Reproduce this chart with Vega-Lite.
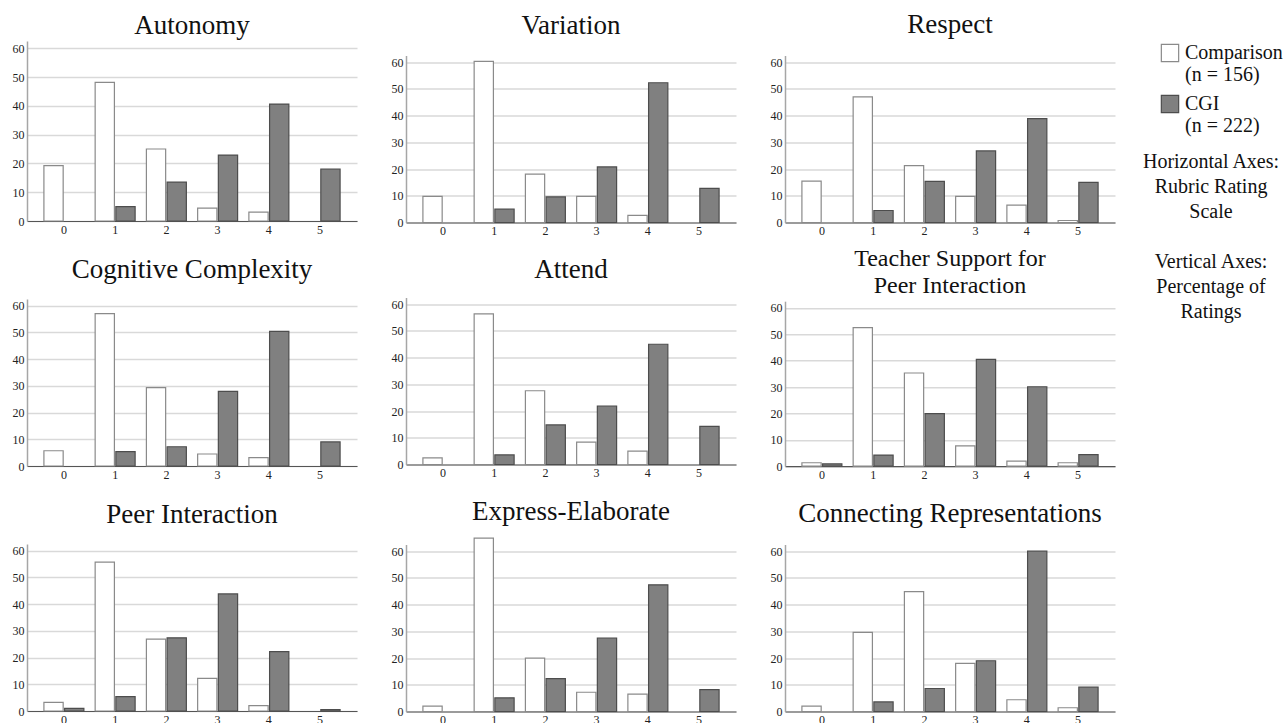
{
  "$schema": "https://vega.github.io/schema/vega-lite/v6.json",
  "padding": {"left": 12, "top": 10, "right": 0, "bottom": 0},
  "data": {"values": [
    {"panel": "Autonomy", "rating": 0, "group": "Comparison", "pct": 19.2},
    {"panel": "Autonomy", "rating": 1, "group": "Comparison", "pct": 48.1},
    {"panel": "Autonomy", "rating": 2, "group": "Comparison", "pct": 25.0},
    {"panel": "Autonomy", "rating": 3, "group": "Comparison", "pct": 4.5},
    {"panel": "Autonomy", "rating": 4, "group": "Comparison", "pct": 3.1},
    {"panel": "Autonomy", "rating": 1, "group": "CGI", "pct": 5.0},
    {"panel": "Autonomy", "rating": 2, "group": "CGI", "pct": 13.5},
    {"panel": "Autonomy", "rating": 3, "group": "CGI", "pct": 22.9},
    {"panel": "Autonomy", "rating": 4, "group": "CGI", "pct": 40.6},
    {"panel": "Autonomy", "rating": 5, "group": "CGI", "pct": 18.0},

    {"panel": "Variation", "rating": 0, "group": "Comparison", "pct": 9.8},
    {"panel": "Variation", "rating": 1, "group": "Comparison", "pct": 60.3},
    {"panel": "Variation", "rating": 2, "group": "Comparison", "pct": 18.1},
    {"panel": "Variation", "rating": 3, "group": "Comparison", "pct": 9.8},
    {"panel": "Variation", "rating": 4, "group": "Comparison", "pct": 2.7},
    {"panel": "Variation", "rating": 1, "group": "CGI", "pct": 5.0},
    {"panel": "Variation", "rating": 2, "group": "CGI", "pct": 9.6},
    {"panel": "Variation", "rating": 3, "group": "CGI", "pct": 20.8},
    {"panel": "Variation", "rating": 4, "group": "CGI", "pct": 52.3},
    {"panel": "Variation", "rating": 5, "group": "CGI", "pct": 12.8},

    {"panel": "Respect", "rating": 0, "group": "Comparison", "pct": 15.5},
    {"panel": "Respect", "rating": 1, "group": "Comparison", "pct": 47.0},
    {"panel": "Respect", "rating": 2, "group": "Comparison", "pct": 21.3},
    {"panel": "Respect", "rating": 3, "group": "Comparison", "pct": 9.8},
    {"panel": "Respect", "rating": 4, "group": "Comparison", "pct": 6.5},
    {"panel": "Respect", "rating": 5, "group": "Comparison", "pct": 0.75},
    {"panel": "Respect", "rating": 1, "group": "CGI", "pct": 4.5},
    {"panel": "Respect", "rating": 2, "group": "CGI", "pct": 15.4},
    {"panel": "Respect", "rating": 3, "group": "CGI", "pct": 26.8},
    {"panel": "Respect", "rating": 4, "group": "CGI", "pct": 38.9},
    {"panel": "Respect", "rating": 5, "group": "CGI", "pct": 15.0},

    {"panel": "Cognitive Complexity", "rating": 0, "group": "Comparison", "pct": 5.7},
    {"panel": "Cognitive Complexity", "rating": 1, "group": "Comparison", "pct": 57.0},
    {"panel": "Cognitive Complexity", "rating": 2, "group": "Comparison", "pct": 29.3},
    {"panel": "Cognitive Complexity", "rating": 3, "group": "Comparison", "pct": 4.5},
    {"panel": "Cognitive Complexity", "rating": 4, "group": "Comparison", "pct": 3.1},
    {"panel": "Cognitive Complexity", "rating": 1, "group": "CGI", "pct": 5.4},
    {"panel": "Cognitive Complexity", "rating": 2, "group": "CGI", "pct": 7.2},
    {"panel": "Cognitive Complexity", "rating": 3, "group": "CGI", "pct": 27.9},
    {"panel": "Cognitive Complexity", "rating": 4, "group": "CGI", "pct": 50.4},
    {"panel": "Cognitive Complexity", "rating": 5, "group": "CGI", "pct": 9.0},

    {"panel": "Attend", "rating": 0, "group": "Comparison", "pct": 2.5},
    {"panel": "Attend", "rating": 1, "group": "Comparison", "pct": 56.4},
    {"panel": "Attend", "rating": 2, "group": "Comparison", "pct": 27.6},
    {"panel": "Attend", "rating": 3, "group": "Comparison", "pct": 8.4},
    {"panel": "Attend", "rating": 4, "group": "Comparison", "pct": 5.0},
    {"panel": "Attend", "rating": 1, "group": "CGI", "pct": 3.6},
    {"panel": "Attend", "rating": 2, "group": "CGI", "pct": 14.8},
    {"panel": "Attend", "rating": 3, "group": "CGI", "pct": 21.9},
    {"panel": "Attend", "rating": 4, "group": "CGI", "pct": 45.0},
    {"panel": "Attend", "rating": 5, "group": "CGI", "pct": 14.3},

    {"panel": "TSPI", "rating": 0, "group": "Comparison", "pct": 1.3},
    {"panel": "TSPI", "rating": 1, "group": "Comparison", "pct": 52.5},
    {"panel": "TSPI", "rating": 2, "group": "Comparison", "pct": 35.3},
    {"panel": "TSPI", "rating": 3, "group": "Comparison", "pct": 7.7},
    {"panel": "TSPI", "rating": 4, "group": "Comparison", "pct": 1.9},
    {"panel": "TSPI", "rating": 5, "group": "Comparison", "pct": 1.3},
    {"panel": "TSPI", "rating": 0, "group": "CGI", "pct": 0.9},
    {"panel": "TSPI", "rating": 1, "group": "CGI", "pct": 4.2},
    {"panel": "TSPI", "rating": 2, "group": "CGI", "pct": 19.9},
    {"panel": "TSPI", "rating": 3, "group": "CGI", "pct": 40.5},
    {"panel": "TSPI", "rating": 4, "group": "CGI", "pct": 30.1},
    {"panel": "TSPI", "rating": 5, "group": "CGI", "pct": 4.4},

    {"panel": "Peer Interaction", "rating": 0, "group": "Comparison", "pct": 3.2},
    {"panel": "Peer Interaction", "rating": 1, "group": "Comparison", "pct": 55.7},
    {"panel": "Peer Interaction", "rating": 2, "group": "Comparison", "pct": 26.9},
    {"panel": "Peer Interaction", "rating": 3, "group": "Comparison", "pct": 12.2},
    {"panel": "Peer Interaction", "rating": 4, "group": "Comparison", "pct": 2.0},
    {"panel": "Peer Interaction", "rating": 0, "group": "CGI", "pct": 1.0},
    {"panel": "Peer Interaction", "rating": 1, "group": "CGI", "pct": 5.4},
    {"panel": "Peer Interaction", "rating": 2, "group": "CGI", "pct": 27.4},
    {"panel": "Peer Interaction", "rating": 3, "group": "CGI", "pct": 43.8},
    {"panel": "Peer Interaction", "rating": 4, "group": "CGI", "pct": 22.2},
    {"panel": "Peer Interaction", "rating": 5, "group": "CGI", "pct": 0.5},

    {"panel": "Express-Elaborate", "rating": 0, "group": "Comparison", "pct": 2.0},
    {"panel": "Express-Elaborate", "rating": 1, "group": "Comparison", "pct": 64.9},
    {"panel": "Express-Elaborate", "rating": 2, "group": "Comparison", "pct": 20.0},
    {"panel": "Express-Elaborate", "rating": 3, "group": "Comparison", "pct": 7.2},
    {"panel": "Express-Elaborate", "rating": 4, "group": "Comparison", "pct": 6.5},
    {"panel": "Express-Elaborate", "rating": 1, "group": "CGI", "pct": 5.1},
    {"panel": "Express-Elaborate", "rating": 2, "group": "CGI", "pct": 12.3},
    {"panel": "Express-Elaborate", "rating": 3, "group": "CGI", "pct": 27.5},
    {"panel": "Express-Elaborate", "rating": 4, "group": "CGI", "pct": 47.4},
    {"panel": "Express-Elaborate", "rating": 5, "group": "CGI", "pct": 8.2},

    {"panel": "Connecting Representations", "rating": 0, "group": "Comparison", "pct": 2.0},
    {"panel": "Connecting Representations", "rating": 1, "group": "Comparison", "pct": 29.6},
    {"panel": "Connecting Representations", "rating": 2, "group": "Comparison", "pct": 44.9},
    {"panel": "Connecting Representations", "rating": 3, "group": "Comparison", "pct": 18.0},
    {"panel": "Connecting Representations", "rating": 4, "group": "Comparison", "pct": 4.4},
    {"panel": "Connecting Representations", "rating": 5, "group": "Comparison", "pct": 1.4},
    {"panel": "Connecting Representations", "rating": 1, "group": "CGI", "pct": 3.6},
    {"panel": "Connecting Representations", "rating": 2, "group": "CGI", "pct": 8.6},
    {"panel": "Connecting Representations", "rating": 3, "group": "CGI", "pct": 19.0},
    {"panel": "Connecting Representations", "rating": 4, "group": "CGI", "pct": 60.0},
    {"panel": "Connecting Representations", "rating": 5, "group": "CGI", "pct": 9.1}
  ]},
  "spacing": 34,
  "center": true,
  "hconcat": [
    {"spacing": 21, "vconcat": [
      {"title": {"text": "Autonomy", "offset": 1.5}, "width": 330, "height": 180,
       "transform": [{"filter": "datum.panel === 'Autonomy'"}],
       "mark": {"type": "bar", "strokeWidth": 1.2},
       "encoding": {
         "x": {"field": "rating", "type": "ordinal", "title": null, "scale": {"domain": [0,1,2,3,4,5], "paddingInner": 0.22, "paddingOuter": 0.33}, "axis": {"labelAngle": 0}},
         "xOffset": {"field": "group", "scale": {"domain": ["Comparison","CGI"], "paddingInner": 0.07}},
         "y": {"field": "pct", "type": "quantitative", "title": null, "scale": {"domain": [0,62.5], "nice": false}, "axis": {"values": [0,10,20,30,40,50,60]}},
         "fill": {"field": "group", "scale": {"domain": ["Comparison","CGI"], "range": ["#ffffff","#808080"]},
           "legend": {"orient": "none", "legendX": 1113, "legendY": 2, "title": ["Horizontal Axes:", "Rubric Rating", "Scale", "\u200b", "Vertical Axes:", "Percentage of", "Ratings"],
             "titleOrient": "bottom", "titleAlign": "center", "titleAnchor": "middle", "titleFont": "Liberation Serif", "titleFontSize": 20, "titleFontWeight": "normal", "titleLineHeight": 25, "titleColor": "#111", "titlePadding": 16, "titleLimit": 400,
             "labelFont": "Liberation Serif", "labelFontSize": 20, "labelColor": "#111", "labelLimit": 300,
             "labelExpr": "datum.label === 'Comparison' ? ['Comparison', '(n = 156)'] : ['CGI', '(n = 222)']",
             "symbolType": "square", "symbolSize": 300, "symbolStrokeColor": "#666666", "symbolStrokeWidth": 1.2, "symbolOffset": 20, "labelOffset": 5, "rowPadding": 7, "padding": 0}},
         "stroke": {"field": "group", "scale": {"domain": ["Comparison","CGI"], "range": ["#8a8a8a","#4d4d4d"]}, "legend": null}
       }},
      {"title": {"text": "Cognitive Complexity", "offset": 14.6}, "width": 330, "height": 167,
       "transform": [{"filter": "datum.panel === 'Cognitive Complexity'"}],
       "mark": {"type": "bar", "strokeWidth": 1.2},
       "encoding": {
         "x": {"field": "rating", "type": "ordinal", "title": null, "scale": {"domain": [0,1,2,3,4,5], "paddingInner": 0.22, "paddingOuter": 0.33}, "axis": {"labelAngle": 0}},
         "xOffset": {"field": "group", "scale": {"domain": ["Comparison","CGI"], "paddingInner": 0.07}},
         "y": {"field": "pct", "type": "quantitative", "title": null, "scale": {"domain": [0,62.5], "nice": false}, "axis": {"values": [0,10,20,30,40,50,60]}},
         "fill": {"field": "group", "scale": {"domain": ["Comparison","CGI"], "range": ["#ffffff","#808080"]}, "legend": null},
         "stroke": {"field": "group", "scale": {"domain": ["Comparison","CGI"], "range": ["#8a8a8a","#4d4d4d"]}, "legend": null}
       }},
      {"title": {"text": "Peer Interaction", "offset": 14.6}, "width": 330, "height": 167,
       "transform": [{"filter": "datum.panel === 'Peer Interaction'"}],
       "mark": {"type": "bar", "strokeWidth": 1.2},
       "encoding": {
         "x": {"field": "rating", "type": "ordinal", "title": " ", "scale": {"domain": [0,1,2,3,4,5], "paddingInner": 0.22, "paddingOuter": 0.33}, "axis": {"labelAngle": 0, "titleFontSize": 12, "titlePadding": 4}},
         "xOffset": {"field": "group", "scale": {"domain": ["Comparison","CGI"], "paddingInner": 0.07}},
         "y": {"field": "pct", "type": "quantitative", "title": null, "scale": {"domain": [0,62.5], "nice": false}, "axis": {"values": [0,10,20,30,40,50,60]}},
         "fill": {"field": "group", "scale": {"domain": ["Comparison","CGI"], "range": ["#ffffff","#808080"]}, "legend": null},
         "stroke": {"field": "group", "scale": {"domain": ["Comparison","CGI"], "range": ["#8a8a8a","#4d4d4d"]}, "legend": null}
       }}
    ]},
    {"spacing": 19, "vconcat": [
      {"title": {"text": "Variation", "offset": 16}, "width": 330, "height": 167,
       "transform": [{"filter": "datum.panel === 'Variation'"}],
       "mark": {"type": "bar", "strokeWidth": 1.2},
       "encoding": {
         "x": {"field": "rating", "type": "ordinal", "title": null, "scale": {"domain": [0,1,2,3,4,5], "paddingInner": 0.22, "paddingOuter": 0.33}, "axis": {"labelAngle": 0}},
         "xOffset": {"field": "group", "scale": {"domain": ["Comparison","CGI"], "paddingInner": 0.07}},
         "y": {"field": "pct", "type": "quantitative", "title": null, "scale": {"domain": [0,62.5], "nice": false}, "axis": {"values": [0,10,20,30,40,50,60]}},
         "fill": {"field": "group", "scale": {"domain": ["Comparison","CGI"], "range": ["#ffffff","#808080"]}, "legend": null},
         "stroke": {"field": "group", "scale": {"domain": ["Comparison","CGI"], "range": ["#8a8a8a","#4d4d4d"]}, "legend": null}
       }},
      {"title": {"text": "Attend", "offset": 14}, "width": 330, "height": 167,
       "transform": [{"filter": "datum.panel === 'Attend'"}],
       "mark": {"type": "bar", "strokeWidth": 1.2},
       "encoding": {
         "x": {"field": "rating", "type": "ordinal", "title": null, "scale": {"domain": [0,1,2,3,4,5], "paddingInner": 0.22, "paddingOuter": 0.33}, "axis": {"labelAngle": 0}},
         "xOffset": {"field": "group", "scale": {"domain": ["Comparison","CGI"], "paddingInner": 0.07}},
         "y": {"field": "pct", "type": "quantitative", "title": null, "scale": {"domain": [0,62.5], "nice": false}, "axis": {"values": [0,10,20,30,40,50,60]}},
         "fill": {"field": "group", "scale": {"domain": ["Comparison","CGI"], "range": ["#ffffff","#808080"]}, "legend": null},
         "stroke": {"field": "group", "scale": {"domain": ["Comparison","CGI"], "range": ["#8a8a8a","#4d4d4d"]}, "legend": null}
       }},
      {"title": {"text": "Express-Elaborate", "offset": 11.9}, "width": 330, "height": 167,
       "transform": [{"filter": "datum.panel === 'Express-Elaborate'"}],
       "mark": {"type": "bar", "strokeWidth": 1.2},
       "encoding": {
         "x": {"field": "rating", "type": "ordinal", "title": null, "scale": {"domain": [0,1,2,3,4,5], "paddingInner": 0.22, "paddingOuter": 0.33}, "axis": {"labelAngle": 0}},
         "xOffset": {"field": "group", "scale": {"domain": ["Comparison","CGI"], "paddingInner": 0.07}},
         "y": {"field": "pct", "type": "quantitative", "title": null, "scale": {"domain": [0,62.5], "nice": false}, "axis": {"values": [0,10,20,30,40,50,60]}},
         "fill": {"field": "group", "scale": {"domain": ["Comparison","CGI"], "range": ["#ffffff","#808080"]}, "legend": null},
         "stroke": {"field": "group", "scale": {"domain": ["Comparison","CGI"], "range": ["#8a8a8a","#4d4d4d"]}, "legend": null}
       }}
    ]},
    {"spacing": 9.7, "vconcat": [
      {"title": {"text": "Respect", "offset": 16.8}, "width": 330, "height": 167,
       "transform": [{"filter": "datum.panel === 'Respect'"}],
       "mark": {"type": "bar", "strokeWidth": 1.2},
       "encoding": {
         "x": {"field": "rating", "type": "ordinal", "title": null, "scale": {"domain": [0,1,2,3,4,5], "paddingInner": 0.22, "paddingOuter": 0.33}, "axis": {"labelAngle": 0}},
         "xOffset": {"field": "group", "scale": {"domain": ["Comparison","CGI"], "paddingInner": 0.07}},
         "y": {"field": "pct", "type": "quantitative", "title": null, "scale": {"domain": [0,62.5], "nice": false}, "axis": {"values": [0,10,20,30,40,50,60]}},
         "fill": {"field": "group", "scale": {"domain": ["Comparison","CGI"], "range": ["#ffffff","#808080"]}, "legend": null},
         "stroke": {"field": "group", "scale": {"domain": ["Comparison","CGI"], "range": ["#8a8a8a","#4d4d4d"]}, "legend": null}
       }},
      {"spacing": 19.3, "vconcat": [
        {"title": {"text": ["Teacher Support for", "Peer Interaction"], "fontSize": 24, "lineHeight": 27.7, "offset": 2.7}, "width": 330, "height": 165,
         "transform": [{"filter": "datum.panel === 'TSPI'"}],
         "mark": {"type": "bar", "strokeWidth": 1.2},
         "encoding": {
           "x": {"field": "rating", "type": "ordinal", "title": null, "scale": {"domain": [0,1,2,3,4,5], "paddingInner": 0.22, "paddingOuter": 0.33}, "axis": {"labelAngle": 0}},
           "xOffset": {"field": "group", "scale": {"domain": ["Comparison","CGI"], "paddingInner": 0.07}},
           "y": {"field": "pct", "type": "quantitative", "title": null, "scale": {"domain": [0,62.5], "nice": false}, "axis": {"values": [0,10,20,30,40,50,60]}},
           "fill": {"field": "group", "scale": {"domain": ["Comparison","CGI"], "range": ["#ffffff","#808080"]}, "legend": null},
           "stroke": {"field": "group", "scale": {"domain": ["Comparison","CGI"], "range": ["#8a8a8a","#4d4d4d"]}, "legend": null}
         }},
        {"title": {"text": "Connecting Representations", "offset": 17}, "width": 330, "height": 167,
         "transform": [{"filter": "datum.panel === 'Connecting Representations'"}],
         "mark": {"type": "bar", "strokeWidth": 1.2},
         "encoding": {
           "x": {"field": "rating", "type": "ordinal", "title": null, "scale": {"domain": [0,1,2,3,4,5], "paddingInner": 0.22, "paddingOuter": 0.33}, "axis": {"labelAngle": 0}},
           "xOffset": {"field": "group", "scale": {"domain": ["Comparison","CGI"], "paddingInner": 0.07}},
           "y": {"field": "pct", "type": "quantitative", "title": null, "scale": {"domain": [0,62.5], "nice": false}, "axis": {"values": [0,10,20,30,40,50,60]}},
           "fill": {"field": "group", "scale": {"domain": ["Comparison","CGI"], "range": ["#ffffff","#808080"]}, "legend": null},
           "stroke": {"field": "group", "scale": {"domain": ["Comparison","CGI"], "range": ["#8a8a8a","#4d4d4d"]}, "legend": null}
         }}
      ]}
    ]}
  ],
  "config": {
    "view": {"stroke": null},
    "title": {"font": "Liberation Serif", "fontSize": 27, "fontWeight": "normal", "color": "#111111", "anchor": "middle"},
    "axis": {"labelFont": "Liberation Serif", "labelFontSize": 12, "labelColor": "#222222", "ticks": false, "labelPadding": 3},
    "axisY": {"grid": true, "gridColor": "#d9d9d9", "gridWidth": 1.5, "domainColor": "#a6a6a6", "domainWidth": 1.5},
    "axisX": {"grid": false, "domainColor": "#555555", "domainWidth": 1.2}
  }
}
